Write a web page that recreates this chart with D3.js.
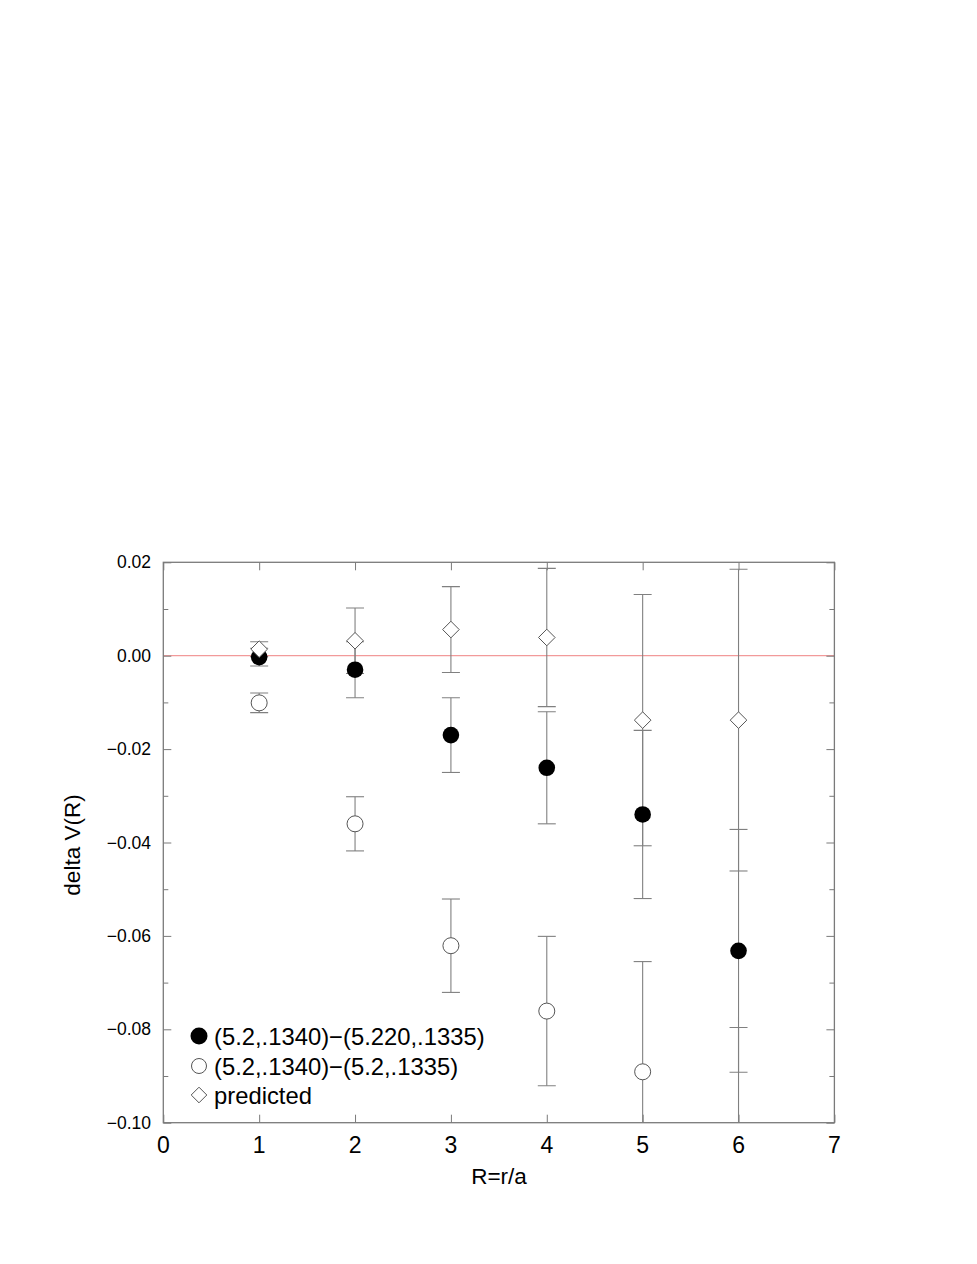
<!DOCTYPE html>
<html>
<head>
<meta charset="utf-8">
<script src="https://cdn.jsdelivr.net/npm/d3@7"></script>
<style>
  html, body { margin: 0; padding: 0; background: #fff; }
  svg { display: block; font-family: "Liberation Sans", Arial, Helvetica, sans-serif; }
</style>
</head>
<body>
<svg id="chart" width="977" height="1264"></svg>
<script>
// ---- data ----
const R = [1, 2, 3, 4, 5, 6];
const filledVal = [-0.0003, -0.003, -0.017, -0.024, -0.034, -0.0632];
const filledErr = [0.0019, 0.006, 0.008, 0.012, 0.018, 0.026];
const openVal = [-0.0101, -0.036, -0.0621, -0.0761, -0.0891, -0.112];
const openErr = [0.0021, 0.0058, 0.0100, 0.0160, 0.0236, 0.0324];
const predVal = [0.0014, 0.0032, 0.0056, 0.0039, -0.0138, -0.0138];
const predErr = [0.0016, 0.0070, 0.0092, 0.0148, 0.0269, 0.0323];
const xTicks = [0, 1, 2, 3, 4, 5, 6, 7];
const yTicks = [0.02, 0.00, -0.02, -0.04, -0.06, -0.08, -0.10];
const yMinor = [0.01, -0.01, -0.03, -0.05, -0.07, -0.09];
const legendLabels = ["(5.2,.1340)\u2212(5.220,.1335)", "(5.2,.1340)\u2212(5.2,.1335)", "predicted"];
const xTitle = "R=r/a";
const yTitle = "delta V(R)";

// ---- layout ----
const L = 163.3, Rt = 834.4, T = 562.3, B = 1122.7;
const svg = d3.select("#chart");
const x = d3.scaleLinear().domain([0, 7]).range([L, Rt]);
const y = d3.scaleLinear().domain([-0.10, 0.02]).range([B, T]);

const axisColor = "#7a7a7a";
const errColor = "#808080";

svg.append("defs").append("clipPath").attr("id", "clip")
  .append("rect").attr("x", L).attr("y", T).attr("width", Rt - L).attr("height", B - T);

// zero line
svg.append("line")
  .attr("x1", L).attr("x2", Rt).attr("y1", y(0)).attr("y2", y(0))
  .attr("stroke", "#f29a9a").attr("stroke-width", 1.2);

// axes via d3 axis generators (ticks inside)
const fmtY = d => (d < 0 ? "\u2212" : "") + d3.format(".2f")(Math.abs(d));
const gl = svg.append("g").attr("transform", `translate(${L},0)`)
  .call(d3.axisRight(y).tickValues(yTicks).tickSize(8).tickFormat(""));
const glm = svg.append("g").attr("transform", `translate(${L},0)`)
  .call(d3.axisRight(y).tickValues(yMinor).tickSize(5).tickFormat(""));
const gr = svg.append("g").attr("transform", `translate(${Rt},0)`)
  .call(d3.axisLeft(y).tickValues(yTicks).tickSize(8).tickFormat(""));
const grm = svg.append("g").attr("transform", `translate(${Rt},0)`)
  .call(d3.axisLeft(y).tickValues(yMinor).tickSize(5).tickFormat(""));
const gb = svg.append("g").attr("transform", `translate(0,${B})`)
  .call(d3.axisTop(x).tickValues(xTicks).tickSize(8).tickFormat(""));
const gt = svg.append("g").attr("transform", `translate(0,${T})`)
  .call(d3.axisBottom(x).tickValues(xTicks).tickSize(8).tickFormat(""));
[gl, glm, gr, grm, gb, gt].forEach(g => {
  g.select(".domain").remove();
  g.selectAll(".tick line").attr("stroke", axisColor).attr("stroke-width", 1);
});

// frame
svg.append("rect").attr("x", L).attr("y", T).attr("width", Rt - L).attr("height", B - T)
  .attr("fill", "none").attr("stroke", axisColor).attr("stroke-width", 1.3);

// tick labels
svg.append("g").selectAll("text").data(yTicks).join("text")
  .attr("x", 151).attr("y", d => y(d)).attr("dy", "0.35em")
  .attr("text-anchor", "end").attr("font-size", 17.5).attr("fill", "#000")
  .text(fmtY);
svg.append("g").selectAll("text").data(xTicks).join("text")
  .attr("x", d => x(d)).attr("y", 1152.5)
  .attr("text-anchor", "middle").attr("font-size", 23).attr("fill", "#000")
  .text(d => d);

// axis titles
svg.append("text").attr("x", 499).attr("y", 1184).attr("text-anchor", "middle")
  .attr("font-size", 22.5).text(xTitle);
svg.append("text").attr("transform", `translate(80,845) rotate(-90)`)
  .attr("text-anchor", "middle").attr("font-size", 22.5).text(yTitle);

// error bars
const plot = svg.append("g").attr("clip-path", "url(#clip)");
function errBars(vals, errs) {
  const g = plot.append("g").attr("stroke", errColor).attr("stroke-width", 1.1);
  R.forEach((r, i) => {
    const lo = vals[i] - errs[i], hi = vals[i] + errs[i];
    const cx = x(r);
    g.append("line").attr("x1", cx).attr("x2", cx).attr("y1", y(hi)).attr("y2", y(lo));
    g.append("line").attr("x1", cx - 9).attr("x2", cx + 9).attr("y1", y(hi)).attr("y2", y(hi));
    g.append("line").attr("x1", cx - 9).attr("x2", cx + 9).attr("y1", y(lo)).attr("y2", y(lo));
  });
}
errBars(filledVal, filledErr);
errBars(openVal, openErr);
errBars(predVal, predErr);

// markers
plot.append("g").selectAll("circle").data(R).join("circle")
  .attr("cx", d => x(d)).attr("cy", (d, i) => y(filledVal[i])).attr("r", 8.3)
  .attr("fill", "#000");
plot.append("g").selectAll("circle").data(R).join("circle")
  .attr("cx", d => x(d)).attr("cy", (d, i) => y(openVal[i])).attr("r", 8)
  .attr("fill", "#fff").attr("stroke", "#555").attr("stroke-width", 1);
const diamond = (cx, cy, s) => `M${cx},${cy - s}L${cx + s},${cy}L${cx},${cy + s}L${cx - s},${cy}Z`;
plot.append("g").selectAll("path").data(R).join("path")
  .attr("d", (d, i) => diamond(x(d), y(predVal[i]), 8.3))
  .attr("fill", "#fff").attr("stroke", "#555").attr("stroke-width", 1);

// legend
const legY = [1036, 1066, 1095];
const lg = svg.append("g");
lg.append("circle").attr("cx", 199).attr("cy", legY[0]).attr("r", 8.5).attr("fill", "#000");
lg.append("circle").attr("cx", 199).attr("cy", legY[1]).attr("r", 7.5)
  .attr("fill", "#fff").attr("stroke", "#555").attr("stroke-width", 1);
lg.append("path").attr("d", diamond(199, legY[2], 7.8))
  .attr("fill", "#fff").attr("stroke", "#555").attr("stroke-width", 1);
lg.selectAll("text").data(legendLabels).join("text")
  .attr("x", 214).attr("y", (d, i) => legY[i]).attr("dy", "0.36em")
  .attr("font-size", 23.8).attr("fill", "#000").text(d => d);
</script>
</body>
</html>
